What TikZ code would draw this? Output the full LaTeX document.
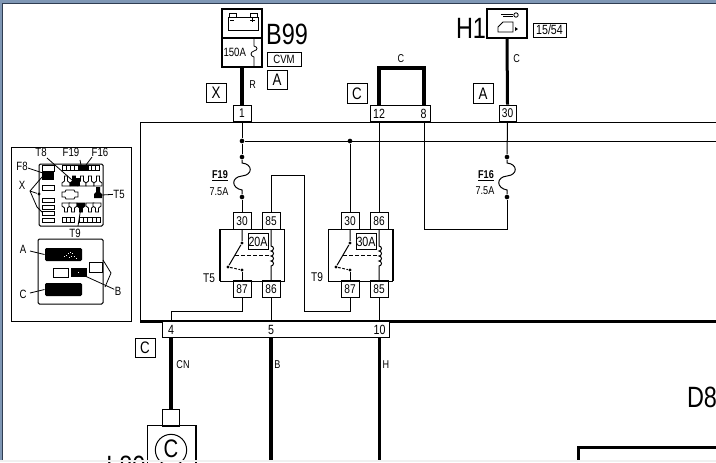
\documentclass[tikz,border=0pt]{standalone}
\usepackage{fontspec}
\setmainfont[FakeStretch=0.8]{Liberation Sans}
\usetikzlibrary{positioning,calc}
\definecolor{framepale}{HTML}{7F97B5}
\definecolor{framedark}{HTML}{2F3D52}

\begin{document}
\begin{tikzpicture}[
    x=0.75pt, y=-0.75pt,
    line width=0.75pt,
    % Estilos dos nos
    every node/.style={font=\fontsize{8.5}{9}\selectfont, inner sep=0pt},
    pin/.style={draw, minimum width=13.5pt, minimum height=12.5pt, font=\fontsize{9.5}{10}\selectfont},
    tagbox/.style={draw, minimum width=15pt, minimum height=14.5pt, font=\fontsize{12.5}{13}\selectfont},
    device/.style={draw, line width=1.5pt},
    relaybox/.style={draw, minimum width=48pt, minimum height=39pt},
    ampbox/.style={draw, fill=white, minimum width=15pt, minimum height=12.5pt, font=\fontsize{10}{11}\selectfont},
    bigname/.style={font=\fontsize{22}{24}\selectfont},
    fatwire/.style={line width=3pt},
    dot/.style={circle, fill=black, minimum size=3.5pt},
    smalldot/.style={circle, fill=black, minimum size=2.5pt},
    inset/.style={font=\fontsize{9}{10}\selectfont},
    thinbox/.style={line width=0.6pt},
    blackbox/.style={fill=black, rounded corners=1pt}
]
\useasboundingbox (0,0) rectangle (716,462);

% Moldura da janela
\fill[white] (0,0) rectangle (716,462);
\fill[framedark] (2,3) rectangle (716,4);
\fill[framedark] (2,3) rectangle (3,462);
\fill[framepale] (0,0) rectangle (716,3);
\fill[framepale] (0,0) rectangle (2,462);

% Centralina
\draw (716,122.5) -- (140,122.5) -- (140,321);
\draw[line width=2.25pt] (140,321) -- (716,321);

% B99
\node[device, minimum width=30pt, minimum height=21.75pt] (batt) at (242,23.5) {};
\node[device, minimum width=30pt, minimum height=21.75pt] (fuse150) at (242,52.5) {};
\draw[thinbox] (228,17) rectangle (258,30);
\draw[thinbox] (229,17) -- (229,13) -- (236,13) -- (236,17);
\draw[thinbox] (250,17) -- (250,13) -- (257,13) -- (257,17);
\draw[thinbox] (230,20) -- (234,20) (250,20) -- (255,20) (252.5,18) -- (252.5,22);
\node[right=1.5pt of fuse150.west, font=\fontsize{9}{10}\selectfont] (amp150) {150A};
\draw[thinbox] (254,39) -- (254,46) .. controls (258,47) and (258,50) .. (254,51) .. controls (250,52) and (250,56) .. (254,57) -- (254,66);
\node[bigname] (b99) at (287,34) {B99};
\node[draw, minimum width=25.5pt, minimum height=10.5pt, font=\fontsize{9}{10}\selectfont] (cvm) at (284,59) {CVM};
\node[tagbox] (tagA1) at (277,80) {A};
\node[tagbox] (tagX) at (216,93) {X};
\node[pin] (pin1) at (242,113.5) {1};
\draw[fatwire] (fuse150.south) -- (pin1.north) node[pos=0.45, right=4pt] (wireR) {R};

% Ponte 12-8
\node[draw, minimum width=45pt, minimum height=12.5pt] (conn128) at (400,113.5) {};
\node[font=\fontsize{10}{11}\selectfont] (pin12) at (379,114) {12};
\node[font=\fontsize{10}{11}\selectfont] (pin8) at (423.5,114) {8};
\coordinate (top12) at (379,105);
\coordinate (top8) at (424,105);
\draw[fatwire] (top12) -- (379,68) -- (424,68) -- (top8);
\node (wireC) at (401,59) {C};
\node[tagbox] (tagC1) at (357,93.5) {C};
\node[tagbox] (tagA2) at (483,93.5) {A};

% H1
\node[device, minimum width=30pt, minimum height=21.75pt] (h1) at (507,23.5) {};
\node[bigname] (h1name) at (471,28) {H1};
\node[draw, minimum width=24.75pt, minimum height=10.5pt, font=\fontsize{10}{11}\selectfont] (tag1554) at (549.5,30) {15/54};
\node[pin, minimum width=12.75pt] (pin30) at (507.5,113.5) {30};
\draw[line width=2.25pt] (h1.south) -- (pin30.north) node[pos=0.3, right=3.5pt] (wireC2) {C};
\draw[thinbox] (501,14) -- (513,14) (503,16.5) -- (513,16.5);
\draw[thinbox] (516,15) circle (2.2);
\draw[thinbox] (498,32) -- (498,27) -- (503,22) -- (513,22) -- (513,32) -- cycle;
\fill (515,27) -- (515,31) -- (518,29) -- cycle;

% Barra interna e fusiveis
\node[dot] (busT5) at (242,141) {};
\node[dot] (busT9) at (350,141) {};
\draw (busT5) -- (716,141);
\draw (pin1.south) -- (busT5);
\foreach \fx/\fname in {242/f19, 507/f16} {
    \node[smalldot, minimum size=3.5pt] (\fname a) at (\fx,157) {};
    \node[smalldot, minimum size=3.5pt] (\fname b) at (\fx,197) {};
    \draw (\fname a) -- (\fx,163) .. controls (\fx+11,164) and (\fx+11,175) .. (\fx,176)
        .. controls (\fx-11,177) and (\fx-11,188) .. (\fx,190) -- (\fname b);
}
\draw (busT5) -- (f19a);
\draw (pin30.south) -- (f16a);
\node[font=\fontsize{8.5}{9}\selectfont\bfseries] (f19name) at (220,176) {\underline{F19}};
\node (f19amp) at (219,192) {7.5A};
\node[font=\fontsize{8.5}{9}\selectfont\bfseries] (f16name) at (486,176) {\underline{F16}};
\node (f16amp) at (485,191) {7.5A};

% Reles
\node[relaybox] (t5box) at (252,255) {};
\node[relaybox] (t9box) at (360.5,255) {};
\draw[line width=1.5pt] (220,229) -- (220,281);
\draw[line width=1.5pt] (393,229) -- (393,281);
\node[font=\fontsize{9.5}{10}\selectfont] (t5name) at (209,278) {T5};
\node[font=\fontsize{9.5}{10}\selectfont] (t9name) at (317,277) {T9};
\node[pin] (t5p30) at (242,221) {30};
\node[pin] (t5p85) at (271,221) {85};
\node[pin] (t5p87) at (242,289) {87};
\node[pin] (t5p86) at (271,289) {86};
\node[pin] (t9p30) at (350,221) {30};
\node[pin] (t9p86) at (379,221) {86};
\node[pin] (t9p87) at (350,289) {87};
\node[pin] (t9p85) at (379,289) {85};
\foreach \rx/\ramp/\rname in {0/20A/t5, 108/30A/t9} {
    \node[smalldot] (\rname c1) at (242+\rx,243) {};
    \node[smalldot] (\rname c2) at (228+\rx,267) {};
    \node[smalldot] (\rname c3) at (242+\rx,270) {};
    \draw (242+\rx,229) -- (\rname c1) -- (\rname c2);
    \draw[dash pattern=on 2pt off 1.2pt] (\rname c2) -- (\rname c3);
    \draw (\rname c3) -- (242+\rx,281);
    \draw[dash pattern=on 3pt off 1.5pt] (235+\rx,255.5) -- (271+\rx,255.5);
    \draw (271+\rx,229) -- (271+\rx,246)
        arc[start angle=-90, end angle=90, radius=2.5] arc[start angle=-90, end angle=90, radius=2.5]
        arc[start angle=-90, end angle=90, radius=2.5] arc[start angle=-90, end angle=90, radius=2.5]
        -- (271+\rx,281);
    \node[ampbox] (\rname amp) at (258+\rx,241.5) {\ramp};
}

% Ligacoes internas
\draw (t5p30.north) -- (f19b);
\draw (t5p85.north) -- (271,175) -- (304,175) -- (304,311) -- (350,311) -- (t9p87.south);
\draw (t9p30.north) -- (busT9);
\draw (t9p86.north) -- (379,122.5);
\node[draw, fill=white, minimum width=170.25pt, minimum height=12.5pt] (connlow) at (275.5,329.5) {};
\node[font=\fontsize{10}{11}\selectfont] (low4) at (171,330) {4};
\node[font=\fontsize{10}{11}\selectfont] (low5) at (271,330) {5};
\node[font=\fontsize{10}{11}\selectfont] (low10) at (379.5,330) {10};
\coordinate (in4) at (171,321);
\coordinate (in5) at (271,321);
\coordinate (in10) at (379,321);
\draw (t5p87.south) -- (242,311) -- (171,311) -- (in4);
\draw (t5p86.south) -- (in5);
\draw (t9p85.south) -- (in10);
\draw (424,122.5) -- (424,229) -- (507,229) -- (f16b);

% Saidas inferiores
\node[tagbox] (tagC2) at (145,348) {C};
\node[draw, minimum width=13pt, minimum height=12.75pt] (l80pin) at (171,417.5) {};
\node[device, line width=1pt, minimum width=36.5pt, minimum height=40pt] (l80) at (171.5,452) {};
\node[draw, circle, minimum size=23.5pt] (l80c) at (171,450) {};
\node[font=\fontsize{19}{21}\selectfont] (l80letter) at (171,449) {C};
\node[bigname, anchor=east] (l80name) at (146,466) {L80};
\coordinate (out4) at (171,338);
\coordinate (out5) at (271,338);
\coordinate (out10) at (379,338);
\coordinate (end5) at (271,462);
\coordinate (end10) at (379,462);
\draw[fatwire] (out4) -- (l80pin.north);
\draw[fatwire] (out5) -- (end5);
\draw[line width=2.25pt] (out10) -- (end10);
\node (wireCN) at (183,365) {CN};
\node (wireB) at (277.5,365) {B};
\node (wireH) at (386,365) {H};

% D8
\node[bigname] (d8) at (702,397.5) {D8};
\draw[line width=2.25pt] (578,462) -- (578,447.5) -- (716,447.5);

% Quadro de localizacao
\node[draw, minimum width=90pt, minimum height=130.5pt] (locbox) at (71,234) {};
\draw[rounded corners=1pt] (39,164) rectangle (103,226);
\draw[rounded corners=1pt] (38,239) rectangle (103,304);
\foreach \sy/\ey in {165/171, 185/190, 198/202, 205/209, 211/215, 218/222} {
    \draw[thinbox] (42,\sy) rectangle (54,\ey);
}
\fill (42,171) rectangle (54,180);
\foreach \i in {0,...,8} {
    \draw[thinbox] ({62+4.2*\i},165) rectangle ({62+4.2*(\i+1)},170);
}
\fill (79,165) rectangle (83,170);
\fill (84,165) rectangle (89,170);
\foreach \hx/\hfill in {62/white, 70/black, 78/white, 86/white, 94/white} {
    \draw[thinbox, fill=\hfill] (\hx+2.5,176) -- (\hx+5.5,176) -- (\hx+5.5,181) -- (\hx+8,183)
        -- (\hx+8,186) -- (\hx,186) -- (\hx,183) -- (\hx+2.5,181) -- cycle;
}
\fill (76,178) rectangle (80,186);
\foreach \hx/\hfill in {62/white, 69/white, 77/black, 86/white, 93/white} {
    \draw[thinbox, fill=\hfill] (\hx,203) -- (\hx+8,203) -- (\hx+8,206) -- (\hx+5.5,208) -- (\hx+5.5,212)
        -- (\hx+2.5,212) -- (\hx+2.5,208) -- (\hx,206) -- cycle;
}
\draw[thinbox] (62,192) -- (65,192) -- (66,190) -- (74,190) -- (75,192) -- (78,192) -- (78,197)
    -- (75,197) -- (74,199) -- (66,199) -- (65,197) -- (62,197) -- cycle;
\fill (96,187) -- (100,187) -- (100,192) -- (102,194) -- (102,198) -- (94,198) -- (94,194) -- (96,192) -- cycle;
\foreach \i in {0,1,2} {
    \draw[thinbox] ({62+4*\i},217) rectangle ({62+4*(\i+1)},222);
}
\foreach \i in {0,...,4} {
    \draw[thinbox] ({79+4.3*\i},217) rectangle ({79+4.3*(\i+1)},222);
}
\node[inset] (locT8) at (41,152) {T8};
\node[inset] (locF19) at (71,152) {F19};
\node[inset] (locF16) at (100,152) {F16};
\node[inset] (locF8) at (22,166) {F8};
\node[inset] (locX) at (22,185) {X};
\node[inset] (locT5) at (119,194) {T5};
\node[inset] (locT9) at (75,233) {T9};
\node[smalldot] (locdot) at (39,194) {};
\coordinate (xfork) at (30,191);
\draw[thinbox] (locT8) ++(6,6) -- (72,180);
\draw[thinbox] (80,160) -- (81,165);
\draw[thinbox] (92,157) -- (86,165);
\draw[thinbox] (locF8) ++(6,2) -- (43,173);
\draw[thinbox] (42,177) -- (xfork) -- (37,207) -- (42,212);
\draw[thinbox] (xfork) -- (locdot);
\draw[thinbox] (102,195) -- (locT5);
\draw[thinbox] (78,226) -- (81,207);
% Parte inferior
\node[inset] (locA) at (23,249) {A};
\node[inset] (locC) at (23,294) {C};
\node[inset] (locB) at (118,291) {B};
\node[blackbox, minimum width=27.75pt, minimum height=9.75pt] (blkA) at (63.5,254.5) {};
\node[blackbox, minimum width=27.75pt, minimum height=9.75pt] (blkC) at (63.5,289.5) {};
\node[fill=black, minimum width=12pt, minimum height=6.75pt] (blkB) at (79,272.5) {};
\node[draw, thinbox, minimum width=11.25pt, minimum height=6.75pt] (whtA) at (60.5,272.5) {};
\node[draw, thinbox, minimum width=9.75pt, minimum height=7.5pt] (whtB) at (95.5,267) {};
\foreach \sx/\sy in {64/256, 66/255, 68/253, 70/252, 72/253, 74/256, 76/258, 69/257, 71/256} {
    \fill[white] (\sx,\sy) rectangle ++(0.8,0.8);
}
\fill[white] (78,272) rectangle ++(0.8,0.8);
\draw[thinbox] (locA) ++(7,2) -- (blkA.west);
\draw[thinbox] (locC) ++(7,-1) -- (blkC.west);
\draw[thinbox] (103,260) -- (111,273) -- (105,287);
\draw[thinbox] (85,276) -- (locB);

% Faixa inferior
\fill[black!6] (0,459.5) rectangle (716,462);
\end{tikzpicture}
\end{document}
